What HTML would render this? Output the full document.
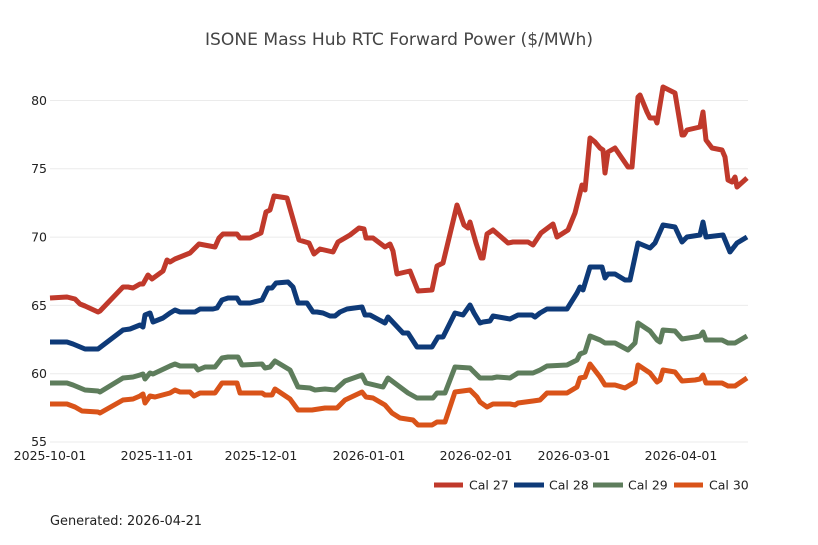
<!DOCTYPE html>
<html><head><meta charset="utf-8"><style>
html,body{margin:0;padding:0;background:#fff;}
svg{display:block;font-family:"DejaVu Sans","Liberation Sans",sans-serif;}
</style></head><body>
<svg width="818" height="545" viewBox="0 0 818 545" xmlns="http://www.w3.org/2000/svg">
<rect width="818" height="545" fill="#fff"/>
<text x="399" y="45" text-anchor="middle" font-size="17" fill="#444" textLength="388" lengthAdjust="spacingAndGlyphs">ISONE Mass Hub RTC Forward Power ($/MWh)</text>
<g stroke="#ebebeb" stroke-width="1">
<line x1="50" x2="748" y1="100.5" y2="100.5"/>
<line x1="50" x2="748" y1="168.8" y2="168.8"/>
<line x1="50" x2="748" y1="237.1" y2="237.1"/>
<line x1="50" x2="748" y1="305.4" y2="305.4"/>
<line x1="50" x2="748" y1="373.7" y2="373.7"/>
<line x1="50" x2="748" y1="442" y2="442"/>
</g>
<g font-size="12.5" fill="#222" text-anchor="end">
<text x="47" y="105">80</text>
<text x="47" y="173">75</text>
<text x="47" y="241.5">70</text>
<text x="47" y="310">65</text>
<text x="47" y="378">60</text>
<text x="47" y="446">55</text>
</g>
<g font-size="12.5" fill="#222" text-anchor="middle">
<text x="50" y="460">2025-10-01</text>
<text x="157" y="460">2025-11-01</text>
<text x="261" y="460">2025-12-01</text>
<text x="369" y="460">2026-01-01</text>
<text x="476" y="460">2026-02-01</text>
<text x="574" y="460">2026-03-01</text>
<text x="681" y="460">2026-04-01</text>
</g>
<g fill="none" stroke-width="5" stroke-linejoin="round" stroke-linecap="butt">
<polyline stroke="#c0392b" points="50,298 67,297 75,299 80,304 85,306 98,312 100,311 123,287 128,287 133,288 140,284 143,284 148,275 152,279 163,271 167,260 170,262 175,259 190,253 195,248 199,244 215,247 219,238 223,234 237,234 240,238 250,238 261,233 266,212 270,210 274,196 287,198 299,240 309,243 314,254 320,249 333,252 338,242 350,235 359,228 364,229 366,238 373,238 385,247 390,244 393,251 397,274 410,271 418,291 432,290 437,266 443,263 457,205 464,225 468,228 470,222 476,243 481,258 483,258 487,234 493,230 508,243 513,242 528,242 533,245 541,233 553,224 557,237 568,230 575,213 580,193 582,185 585,190 590,138 595,142 600,148 603,150 605,173 608,152 615,148 628,167 632,167 638,97 640,95 647,112 650,118 655,118 657,123 663,87 675,93 682,135 684,135 687,130 700,127 703,112 706,140 712,148 722,150 725,157 728,180 732,182 735,177 737,187 747,178"/>
<polyline stroke="#0e3a78" points="50,342 67,342 73,344 85,349 98,349 123,330 130,329 140,325 143,327 145,315 150,313 153,322 163,318 170,313 175,310 180,312 195,312 200,309 213,309 217,308 222,300 228,298 237,298 240,303 250,303 262,300 268,288 272,288 276,283 288,282 293,287 298,303 307,303 313,312 317,312 323,313 330,316 335,316 340,312 347,309 362,307 365,315 370,315 385,323 388,317 403,333 408,333 417,347 432,347 438,337 443,337 455,313 463,315 470,305 474,313 480,323 483,322 490,321 493,316 510,319 518,315 532,315 535,317 540,313 547,309 567,309 577,293 580,287 583,290 590,267 602,267 605,278 608,274 615,274 625,280 630,280 638,243 650,248 655,243 663,225 675,227 682,242 687,237 700,235 703,222 706,237 723,235 730,252 737,243 747,237"/>
<polyline stroke="#5e7d5c" points="50,383 67,383 73,385 85,390 98,391 100,392 123,378 133,377 140,375 143,374 145,379 150,373 153,374 170,366 175,364 180,366 195,366 198,370 205,367 215,367 222,358 228,357 238,357 242,365 262,364 265,368 270,367 275,361 290,370 298,387 310,388 315,390 325,389 335,390 345,381 362,375 366,383 383,387 388,378 408,393 417,398 433,398 437,393 445,393 455,367 470,368 480,378 492,378 497,377 510,378 518,373 533,373 540,370 547,366 567,365 577,360 580,354 585,352 590,336 600,340 605,343 615,343 628,350 635,343 638,323 650,331 657,340 660,342 663,330 675,331 682,339 695,337 700,336 703,332 706,340 722,340 728,343 735,343 747,336"/>
<polyline stroke="#d95319" points="50,404 67,404 75,407 82,411 98,412 100,413 123,400 133,399 140,396 143,394 145,403 150,396 155,397 170,393 175,390 180,392 190,392 194,396 200,393 215,393 222,383 237,383 240,393 262,393 265,395 272,395 275,389 290,399 298,410 312,410 325,408 337,408 345,400 362,392 366,397 373,398 385,405 392,413 400,418 413,420 418,425 432,425 437,422 445,422 455,392 470,390 477,397 480,402 487,407 493,404 510,404 515,405 518,403 533,401 540,400 547,393 567,393 577,387 580,378 585,377 590,364 600,377 605,385 615,385 625,388 635,382 638,365 650,373 657,382 660,380 663,370 675,372 682,381 695,380 700,379 703,375 706,383 722,383 728,386 735,386 747,378"/>
</g>
<g stroke-width="5">
<line x1="434" x2="463" y1="485" y2="485" stroke="#c0392b"/>
<line x1="514" x2="544" y1="485" y2="485" stroke="#0e3a78"/>
<line x1="593" x2="623" y1="485" y2="485" stroke="#5e7d5c"/>
<line x1="674" x2="703" y1="485" y2="485" stroke="#d95319"/>
</g>
<g font-size="12.5" fill="#222">
<text x="469" y="489.5">Cal 27</text>
<text x="549" y="489.5">Cal 28</text>
<text x="628" y="489.5">Cal 29</text>
<text x="709" y="489.5">Cal 30</text>
</g>
<text x="50" y="525" font-size="13" fill="#222" textLength="152" lengthAdjust="spacingAndGlyphs">Generated: 2026-04-21</text>
</svg>
</body></html>
